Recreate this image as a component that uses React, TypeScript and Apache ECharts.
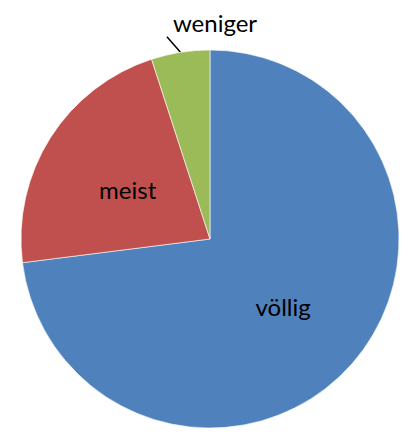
import React, { useEffect, useRef } from "react";
import * as echarts from "echarts";

const categories = ["völlig", "meist", "weniger"];
const values = [73, 22, 5];
const colors = ["#4F81BD", "#C0504D", "#9BBB59"];

export default function App() {
  const ref = useRef<HTMLDivElement>(null);
  useEffect(() => {
    if (!ref.current) return;
    const chart = echarts.init(ref.current, undefined, { renderer: "svg" });
    chart.setOption({
      animation: false,
      series: [
        {
          type: "pie",
          center: [210, 239],
          radius: 189,
          startAngle: 90,
          clockwise: true,
          avoidLabelOverlap: false,
          itemStyle: { borderColor: "#ffffff", borderWidth: 0.6 },
          label: {
            position: "inside",
            fontFamily: "Lato",
            fontSize: 24,
            color: "#000",
            formatter: "{b}",
          },
          labelLine: { show: false },
          data: categories.map((c, i) => {
            const d: any = { name: c, value: values[i], itemStyle: { color: colors[i] } };
            if (i === 2) {
              d.label = { position: "outside" };
              d.labelLine = { show: true, length: 20, length2: 0, lineStyle: { color: "#000", width: 1.5 } };
            }
            return d;
          }),
          labelLayout: (params: any) => {
            if (params.dataIndex !== 2) return { dy: 3 };
            const pts = params.labelLinePoints;
            if (!pts) return {};
            const p0 = pts[0];
            const p1 = [p0[0] - 13.5, p0[1] - 15.5];
            return {
              x: 215,
              y: 22,
              align: "center",
              verticalAlign: "middle",
              labelLinePoints: [p0, p1, p1],
            };
          },
        },
      ],
    });
    return () => chart.dispose();
  }, []);
  return (
    <div
      ref={ref}
      style={{ position: "absolute", left: 0, top: 0, width: 405, height: 437, background: "#fff" }}
    />
  );
}
